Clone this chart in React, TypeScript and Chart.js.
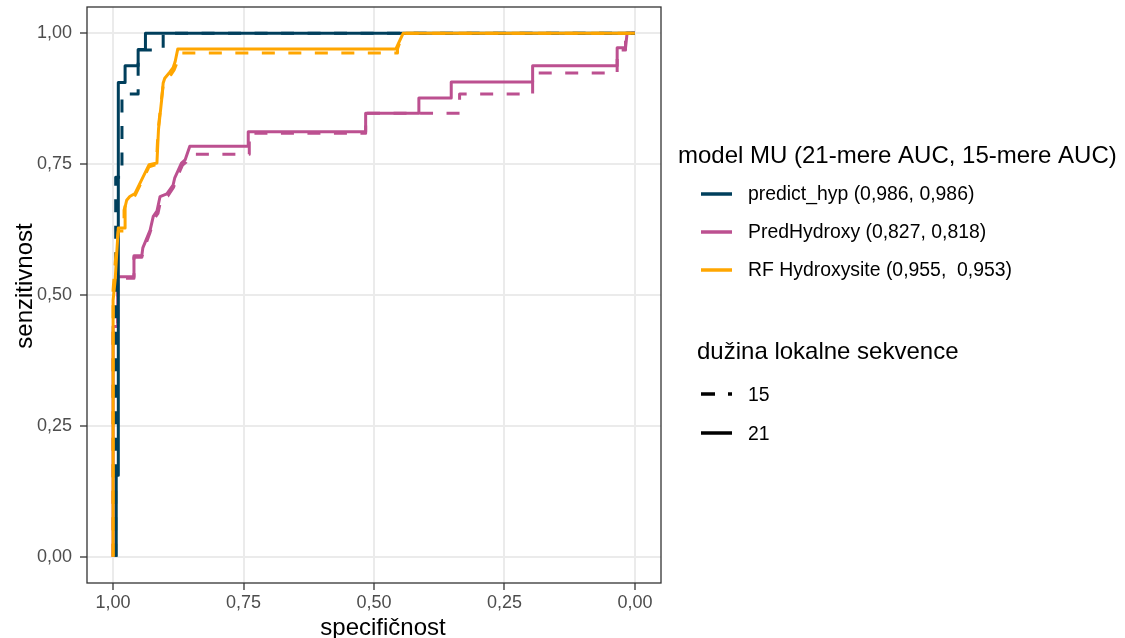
import React, { useEffect, useRef } from 'react';
import { Chart, registerables } from 'chart.js';

Chart.register(...registerables);

const W = 1125;
const H = 638;

// ---- axis ticks / texts ----
const xTickValues = [0, 0.25, 0.5, 0.75, 1];
const xTickLabels = ['0,00', '0,25', '0,50', '0,75', '1,00'];
const yTickValues = [0, 0.25, 0.5, 0.75, 1];
const yTickLabels = ['0,00', '0,25', '0,50', '0,75', '1,00'];
const xTitle = 'specifičnost';
const yTitle = 'senzitivnost';

// ---- legend ----
const modelLegendTitle = 'model MU (21-mere AUC, 15-mere AUC)';
const modelNames = ['predict_hyp (0,986, 0,986)', 'PredHydroxy (0,827, 0,818)', 'RF Hydroxysite (0,955,  0,953)'];
const modelColors = ['#003f5c', '#bc5090', '#ffa600'];
const lengthLegendTitle = 'dužina lokalne sekvence';
const lengthLabels = ['15', '21'];

// ---- ROC data (specificity, sensitivity) ----
const hyp21Spec = [0.994, 0.994, 0.990, 0.990, 0.977, 0.977, 0.952, 0.952, 0.938, 0.938, 0];
const hyp21Sens = [0, 0.156, 0.156, 0.906, 0.906, 0.938, 0.938, 0.969, 0.969, 1, 1];

const hyp15Spec = [0.995, 0.995, 0.983, 0.983, 0.952, 0.952, 0.904, 0.904, 0];
const hyp15Sens = [0, 0.725, 0.725, 0.884, 0.884, 0.968, 0.968, 1, 1];

const pred21Spec = [1.0, 1.0, 0.991, 0.991, 0.960, 0.960, 0.945, 0.943, 0.929, 0.923, 0.916, 0.910, 0.897, 0.885, 0.882, 0.869, 0.862, 0.853, 0.741, 0.741, 0.516, 0.516, 0.414, 0.414, 0.352, 0.352, 0.196, 0.196, 0.034, 0.034, 0.018, 0.015, 0];
const pred21Sens = [0, 0.440, 0.440, 0.535, 0.535, 0.575, 0.575, 0.590, 0.624, 0.650, 0.660, 0.688, 0.693, 0.710, 0.723, 0.752, 0.758, 0.784, 0.784, 0.812, 0.812, 0.847, 0.847, 0.876, 0.876, 0.907, 0.907, 0.938, 0.938, 0.972, 0.972, 1, 1];

const pred15Spec = [1.0, 1.0, 0.991, 0.991, 0.960, 0.960, 0.945, 0.941, 0.929, 0.921, 0.914, 0.908, 0.895, 0.884, 0.880, 0.867, 0.860, 0.849, 0.739, 0.739, 0.516, 0.516, 0.336, 0.336, 0.196, 0.196, 0.034, 0.034, 0.018, 0.018, 0];
const pred15Sens = [0, 0.440, 0.440, 0.532, 0.532, 0.572, 0.572, 0.587, 0.620, 0.646, 0.656, 0.684, 0.689, 0.706, 0.719, 0.748, 0.754, 0.769, 0.769, 0.809, 0.809, 0.847, 0.847, 0.884, 0.884, 0.924, 0.924, 0.968, 0.968, 1, 1];

const rf21Spec = [1.0, 1.0, 0.996, 0.993, 0.990, 0.977, 0.977, 0.974, 0.968, 0.958, 0.931, 0.916, 0.913, 0.907, 0.904, 0.901, 0.891, 0.885, 0.881, 0.876, 0.458, 0.444, 0];
const rf21Sens = [0, 0.490, 0.529, 0.580, 0.628, 0.628, 0.668, 0.681, 0.688, 0.694, 0.749, 0.752, 0.816, 0.872, 0.905, 0.914, 0.926, 0.934, 0.946, 0.970, 0.970, 1, 1];

const rf15Spec = [1.0, 1.0, 0.997, 0.994, 0.990, 0.979, 0.979, 0.975, 0.968, 0.958, 0.931, 0.917, 0.914, 0.908, 0.904, 0.900, 0.889, 0.883, 0.879, 0.870, 0.455, 0.455, 0.444, 0];
const rf15Sens = [0, 0.510, 0.548, 0.585, 0.622, 0.622, 0.662, 0.676, 0.684, 0.690, 0.745, 0.749, 0.812, 0.868, 0.900, 0.911, 0.921, 0.930, 0.940, 0.962, 0.962, 0.970, 1, 1];

const FONT = "'Liberation Sans', Arial, sans-serif";
const DASH = [13, 13.5];

function pts(spec: number[], sens: number[]) {
  return spec.map((s, i) => ({ x: s, y: sens[i] }));
}

const frameAndLegend = {
  id: 'frameAndLegend',
  afterDatasetsDraw(chart: any) {
    const { ctx, chartArea } = chart;
    ctx.save();
    ctx.strokeStyle = '#333333';
    ctx.lineWidth = 1.3;
    ctx.strokeRect(chartArea.left, chartArea.top, chartArea.right - chartArea.left, chartArea.bottom - chartArea.top);
    ctx.restore();
  },
  afterDraw(chart: any) {
    const { ctx } = chart;
    ctx.save();
    ctx.fillStyle = '#000000';
    // axis titles
    ctx.font = `24px ${FONT}`;
    ctx.textAlign = 'center';
    ctx.textBaseline = 'alphabetic';
    ctx.fillText(xTitle, 383, 635);
    ctx.save();
    ctx.translate(31.5, 286);
    ctx.rotate(-Math.PI / 2);
    ctx.fillText(yTitle, 0, 0);
    ctx.restore();

    // legend 1
    ctx.textAlign = 'left';
    ctx.font = `24px ${FONT}`;
    ctx.fillText(modelLegendTitle, 678, 163);
    const keyX0 = 701;
    const keyX1 = 732;
    const rowY = [194, 232, 270];
    ctx.font = `19.4px ${FONT}`;
    modelNames.forEach((name, i) => {
      ctx.strokeStyle = modelColors[i];
      ctx.lineWidth = 3.5;
      ctx.setLineDash([]);
      ctx.beginPath();
      ctx.moveTo(keyX0, rowY[i]);
      ctx.lineTo(keyX1, rowY[i]);
      ctx.stroke();
      ctx.fillStyle = '#000000';
      ctx.fillText(name, 748, rowY[i] + 5.5);
    });

    // legend 2
    ctx.font = `24px ${FONT}`;
    ctx.fillText(lengthLegendTitle, 697, 359);
    const row2Y = [394, 433];
    ctx.font = `19.4px ${FONT}`;
    lengthLabels.forEach((lab, i) => {
      ctx.strokeStyle = '#000000';
      ctx.lineWidth = 3.5;
      ctx.setLineDash(i === 0 ? [14, 13] : []);
      ctx.beginPath();
      ctx.moveTo(keyX0, row2Y[i]);
      ctx.lineTo(keyX1, row2Y[i]);
      ctx.stroke();
      ctx.setLineDash([]);
      ctx.fillText(lab, 748, row2Y[i] + 7);
    });
    ctx.restore();
  },
};

export default function App() {
  const ref = useRef<HTMLCanvasElement | null>(null);

  useEffect(() => {
    if (!ref.current) return;
    Chart.defaults.font.family = FONT;
    const mk = (label: string, spec: number[], sens: number[], color: string, dashed: boolean, order: number) => ({
      label,
      data: pts(spec, sens),
      borderColor: color,
      backgroundColor: color,
      borderWidth: 3,
      borderDash: dashed ? DASH : [],
      pointRadius: 0,
      tension: 0,
      fill: false,
      borderJoinStyle: 'round' as const,
      borderCapStyle: 'butt' as const,
      order,
    });
    const chart = new Chart(ref.current, {
      type: 'line',
      data: {
        datasets: [
          mk('RF Hydroxysite 21', rf21Spec, rf21Sens, modelColors[2], false, 1),
          mk('RF Hydroxysite 15', rf15Spec, rf15Sens, modelColors[2], true, 1),
          mk('predict_hyp 21', hyp21Spec, hyp21Sens, modelColors[0], false, 2),
          mk('predict_hyp 15', hyp15Spec, hyp15Sens, modelColors[0], true, 2),
          mk('PredHydroxy 21', pred21Spec, pred21Sens, modelColors[1], false, 3),
          mk('PredHydroxy 15', pred15Spec, pred15Sens, modelColors[1], true, 3),
        ],
      },
      options: {
        animation: false,
        responsive: false,
        devicePixelRatio: 1,
        layout: { padding: { left: 0, right: W - 661, top: 7, bottom: 0 } },
        plugins: { legend: { display: false }, tooltip: { enabled: false }, title: { display: false } },
        scales: {
          x: {
            type: 'linear',
            reverse: true,
            min: -0.05,
            max: 1.05,
            afterBuildTicks: (s: any) => {
              s.ticks = xTickValues.map((v) => ({ value: v }));
            },
            afterFit: (s: any) => {
              s.height = H - 583;
              s.paddingLeft = 0;
              s.paddingRight = 0;
              s.paddingTop = 0;
              s.paddingBottom = 0;
            },
            ticks: {
              autoSkip: false,
              maxRotation: 0,
              padding: 2,
              color: '#4D4D4D',
              font: { size: 18, family: FONT },
              callback: (v: any) => xTickLabels[xTickValues.indexOf(Number(v))] ?? '',
            },
            grid: { color: '#EBEBEB', lineWidth: 2, tickLength: 7, tickColor: '#333333', tickWidth: 1.3 },
            border: { display: false },
          },
          y: {
            type: 'linear',
            min: -0.05,
            max: 1.05,
            afterBuildTicks: (s: any) => {
              s.ticks = yTickValues.map((v) => ({ value: v }));
            },
            afterFit: (s: any) => {
              s.width = 87;
              s.paddingLeft = 0;
              s.paddingRight = 0;
              s.paddingTop = 0;
              s.paddingBottom = 0;
            },
            ticks: {
              autoSkip: false,
              padding: 8,
              color: '#4D4D4D',
              font: { size: 18, family: FONT },
              callback: (v: any) => yTickLabels[yTickValues.indexOf(Number(v))] ?? '',
            },
            grid: { color: '#EBEBEB', lineWidth: 2, tickLength: 7, tickColor: '#333333', tickWidth: 1.3 },
            border: { display: false },
          },
        },
      } as any,
      plugins: [frameAndLegend],
    });
    return () => chart.destroy();
  }, []);

  return (
    <div style={{ position: 'fixed', left: 0, top: 0, width: W, height: H, background: '#ffffff' }}>
      <canvas ref={ref} width={W} height={H} style={{ display: 'block', width: W, height: H }} />
    </div>
  );
}
